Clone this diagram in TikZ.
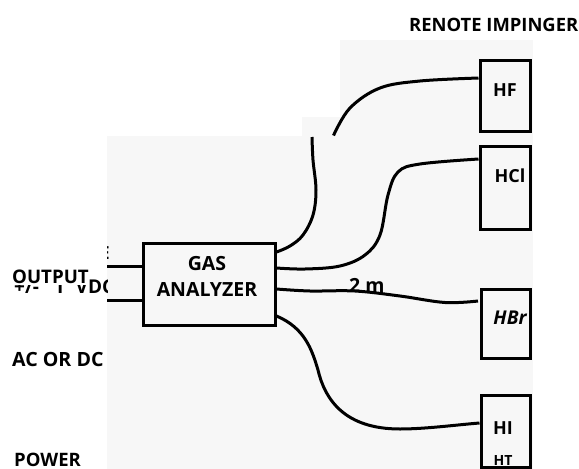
\documentclass[tikz,border=0pt]{standalone}
\usepackage{fontspec}
\setmainfont{Open Sans}
\definecolor{panel}{HTML}{F7F7F7}
\tikzset{
  box/.style={draw=black,line width=3pt,inner sep=0pt,minimum width=#1},
  wire/.style={draw=black,line width=3pt,line join=round},
  lab/.style={inner sep=0pt,font=\fontsize{#1}{#1}\selectfont\bfseries,text=black},
  lab/.default=15,
  boxlab/.style={inner sep=0pt,font=\fontsize{18}{26}\selectfont\bfseries,text=black},
}
\begin{document}
\begin{tikzpicture}[x=1pt,y=-1pt]
\useasboundingbox (0,0) rectangle (579,469);
\fill[white] (0,0) rectangle (579,469);
% pale panels
\fill[panel] (107,136) rectangle (533,469);
\fill[panel] (340,40) rectangle (533,136);
\fill[panel] (302,117) rectangle (340,136);
% clipped left-hand remnants
\begin{scope}
\clip (0,284.5) rectangle (107,296) (88,276) rectangle (107,296);
\node[lab=19,anchor=base west] (vdc) at (14,293) {+/-\hspace{10pt} 1 \hspace{6pt}VDC};
\end{scope}
\begin{scope}
\clip (107,240) rectangle (109.5,262);
\node[lab=18,anchor=base east] (cut) at (110,259) {E};
\end{scope}
% boxes
\node[box=132pt,minimum height=82pt] (gas) at (209,284) {};
\node[box=50pt,minimum height=71pt] (hf) at (505,95.5) {};
\node[box=50pt,minimum height=83pt] (hcl) at (505,187.5) {};
\node[box=49pt,minimum height=69pt] (hbr) at (505.5,323.5) {};
\node[box=49pt,minimum height=72pt] (hi) at (505.5,431) {};
% box text
\node[boxlab,align=center,font=\fontsize{19.5}{26}\selectfont\bfseries] (gastxt) at (207,276) {GAS\\ANALYZER};
\node[boxlab] (hft) at (505,90) {HF};
\node[boxlab] (hclt) at (510,176) {HCl};
\node[boxlab,font=\fontsize{19}{19}\selectfont\bfseries\itshape] (hbrt) at (510,318) {HBr};
\node[boxlab] (hit) at (503,428) {HI};
\node[boxlab,font=\fontsize{14}{14}\selectfont\bfseries] (htt) at (503,460) {HT};
% labels
\node[lab=18.4,anchor=base west] (remote) at (409,31) {RENOTE IMPINGER};
\node[lab=18.7,anchor=base west] (output) at (12,283) {OUTPUT};
\node[lab=19.6,anchor=base west] (acdc) at (12,366) {AC OR DC};
\node[lab=18.5,anchor=base west] (power) at (14,466.5) {POWER};
\node[lab=19.5,anchor=base west] (len) at (349,292) {2 m};
% free ends and attachment points
\coordinate (inA) at (107,266);
\coordinate (inB) at (107,300);
\coordinate (gasA) at ([yshift=32pt]gas.east);
\coordinate (gasB) at ([yshift=16pt]gas.east);
\coordinate (gasC) at ([yshift=-5pt]gas.east);
\coordinate (gasD) at ([yshift=-32pt]gas.east);
\coordinate (cutlow) at (312,137);
\coordinate (cuthigh) at (333.5,135.5);
\coordinate (hbrgap) at (478,301);
% connectors
\draw[wire] (inA) -- (gas.west |- inA);
\draw[wire] (inB) -- (gas.west |- inB);
\draw[wire] plot[smooth,tension=0.6] coordinates {(gasA) (290,246) (303,235) (313,215) (316,190) (313,160) (cutlow)};
\draw[wire] plot[smooth,tension=0.6] coordinates {(cuthigh) (350,108) (380,88) (420,81) (hf.west |- 0,78)};
\draw[wire] plot[smooth,tension=0.6] coordinates {(gasB) (305,269) (340,266) (365,255) (380,235) (388,195) (398,172) (420,164) (hcl.west |- 0,159)};
\draw[wire] plot[smooth,tension=0.6] coordinates {(gasC) (310,291) (355,291) (400,296) (445,302.5) (hbrgap)};
\draw[wire] (gasD) .. controls (305,328) and (312,350) .. (318,370) .. controls (325,400) and (345,429) .. (400,429) .. controls (425,429) and (455,425) .. (hi.west |- 0,423);
\end{tikzpicture}
\end{document}
